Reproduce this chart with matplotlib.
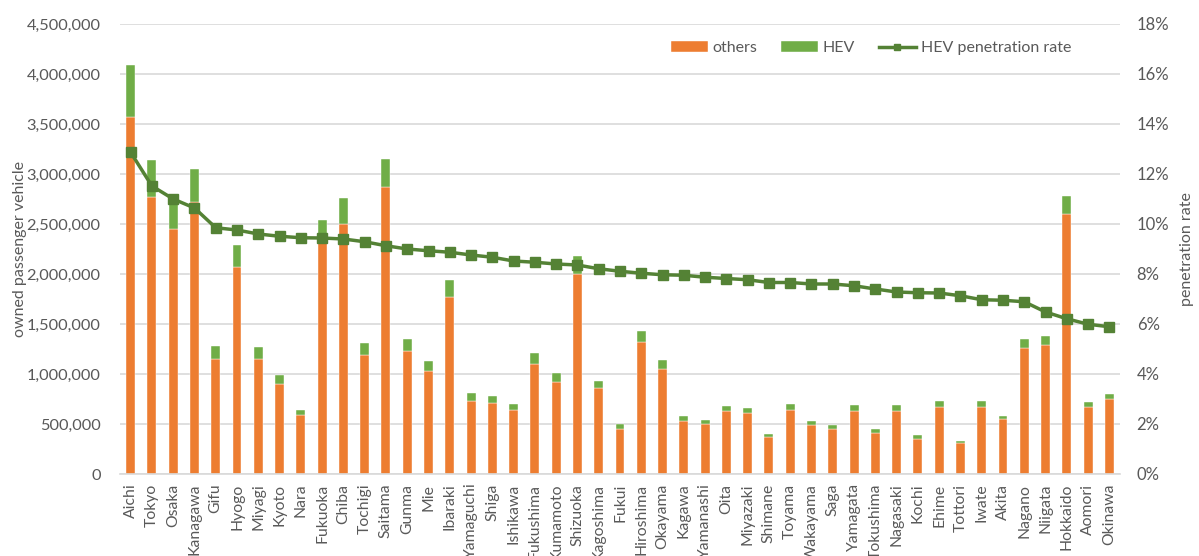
import matplotlib
matplotlib.use("Agg")
import matplotlib.pyplot as plt
from matplotlib.ticker import FuncFormatter, MultipleLocator

prefectures = ["Aichi", "Tokyo", "Osaka", "Kanagawa", "Gifu", "Hyogo", "Miyagi", "Kyoto",
               "Nara", "Fukuoka", "Chiba", "Tochigi", "Saitama", "Gunma", "Mie", "Ibaraki",
               "Yamaguchi", "Shiga", "Ishikawa", "Fukushima", "Kumamoto", "Shizuoka",
               "Kagoshima", "Fukui", "Hiroshima", "Okayama", "Kagawa", "Yamanashi", "Oita",
               "Miyazaki", "Shimane", "Toyama", "Wakayama", "Saga", "Yamagata", "Tokushima",
               "Nagasaki", "Kochi", "Ehime", "Tottori", "Iwate", "Akita", "Nagano", "Niigata",
               "Hokkaido", "Aomori", "Okinawa"]

others = [3567000, 2773000, 2447000, 2720000, 1153000, 2067000, 1147000, 897000,
          587000, 2307000, 2503000, 1187000, 2867000, 1229000, 1030000, 1767000,
          733000, 707000, 640000, 1100000, 923000, 2000000,
          857000, 453000, 1320000, 1047000, 533000, 500000, 627000,
          607000, 367000, 640000, 487000, 453000, 633000, 407000,
          633000, 353000, 673000, 307000, 673000, 547000, 1263000, 1287000,
          2603000, 673000, 753000]

hev = [523000, 367000, 303000, 327000, 127000, 223000, 120000, 93000,
       53000, 233000, 254000, 126000, 286000, 121000, 103000, 173000,
       80000, 73000, 63000, 110000, 84000, 180000,
       73000, 47000, 113000, 96000, 47000, 43000, 53000,
       53000, 33000, 57000, 46000, 37000, 54000, 43000,
       54000, 34000, 57000, 26000, 57000, 36000, 87000, 90000,
       174000, 47000, 50000]

hev_rate = [12.87, 11.52, 11.0, 10.64, 9.85, 9.76, 9.6, 9.51,
            9.45, 9.44, 9.4, 9.29, 9.13, 9.0, 8.93, 8.87,
            8.76, 8.67, 8.52, 8.47, 8.4, 8.36,
            8.21, 8.11, 8.03, 7.97, 7.95, 7.87, 7.82,
            7.77, 7.66, 7.66, 7.6, 7.6, 7.53, 7.4,
            7.28, 7.25, 7.24, 7.13, 6.97, 6.95, 6.89, 6.48,
            6.21, 5.99, 5.89]

ORANGE = "#ED7D31"
GREEN = "#70AD47"
DARK_GREEN = "#548235"
TEXT = "#595959"
GRID = "#D9D9D9"

plt.rcParams["font.family"] = ["Lato", "DejaVu Sans"]

fig = plt.figure(figsize=(11.99, 5.56), dpi=100)
ax = fig.add_axes([120 / 1199, 1 - 474 / 556, 1000 / 1199, 450 / 556])
ax2 = ax.twinx()

x = list(range(len(prefectures)))
ax.bar(x, others, width=0.42, color=ORANGE, edgecolor="white", linewidth=0.3,
       label="others", zorder=2)
ax.bar(x, hev, width=0.42, bottom=others, color=GREEN, edgecolor="white",
       linewidth=0.3, label="HEV", zorder=2)

ax2.plot(x, hev_rate, color=DARK_GREEN, linewidth=2.5, marker="s", markersize=7,
         label="HEV penetration rate", zorder=3)

ax.set_xlim(-0.5, len(prefectures) - 0.5)
ax.set_ylim(0, 4500000)
ax2.set_ylim(0, 18)

ax.yaxis.set_major_locator(MultipleLocator(500000))
ax.yaxis.set_major_formatter(FuncFormatter(lambda v, p: f"{int(v):,}"))
ax2.yaxis.set_major_locator(MultipleLocator(2))
ax2.yaxis.set_major_formatter(FuncFormatter(lambda v, p: f"{int(round(v))}%"))

ax.grid(axis="y", color=GRID, linewidth=1.2, zorder=0)
ax.set_axisbelow(True)

for a in (ax, ax2):
    for s in a.spines.values():
        s.set_visible(False)
    a.tick_params(length=0, colors=TEXT)
ax.spines["bottom"].set_visible(True)
ax.spines["bottom"].set_color(GRID)
ax.spines["bottom"].set_linewidth(1.2)

ax.set_xticks(x)
ax.set_xticklabels(prefectures, rotation=90, fontsize=11.3, color=TEXT)
ax.tick_params(axis="x", pad=7)
ax.tick_params(axis="y", pad=14, labelsize=11.8)
ax2.tick_params(axis="y", pad=12, labelsize=12)

ax.set_ylabel("owned passenger vehicle", color=TEXT, fontsize=11.5, labelpad=0)
ax2.set_ylabel("penetration rate", color=TEXT, fontsize=11.5, labelpad=8)

h1, l1 = ax.get_legend_handles_labels()
h2, l2 = ax2.get_legend_handles_labels()
leg = ax2.legend(h1 + h2, l1 + l2, ncol=3, frameon=False, loc="upper right",
                 bbox_to_anchor=(0.951, 0.962), borderpad=0, borderaxespad=0,
                 fontsize=11.5, handlelength=2.3, handleheight=0.6,
                 columnspacing=1.5, handletextpad=0.3, labelcolor=TEXT)
for line in leg.get_lines():
    line.set_markersize(5)

fig.savefig("out.png", dpi=100)
